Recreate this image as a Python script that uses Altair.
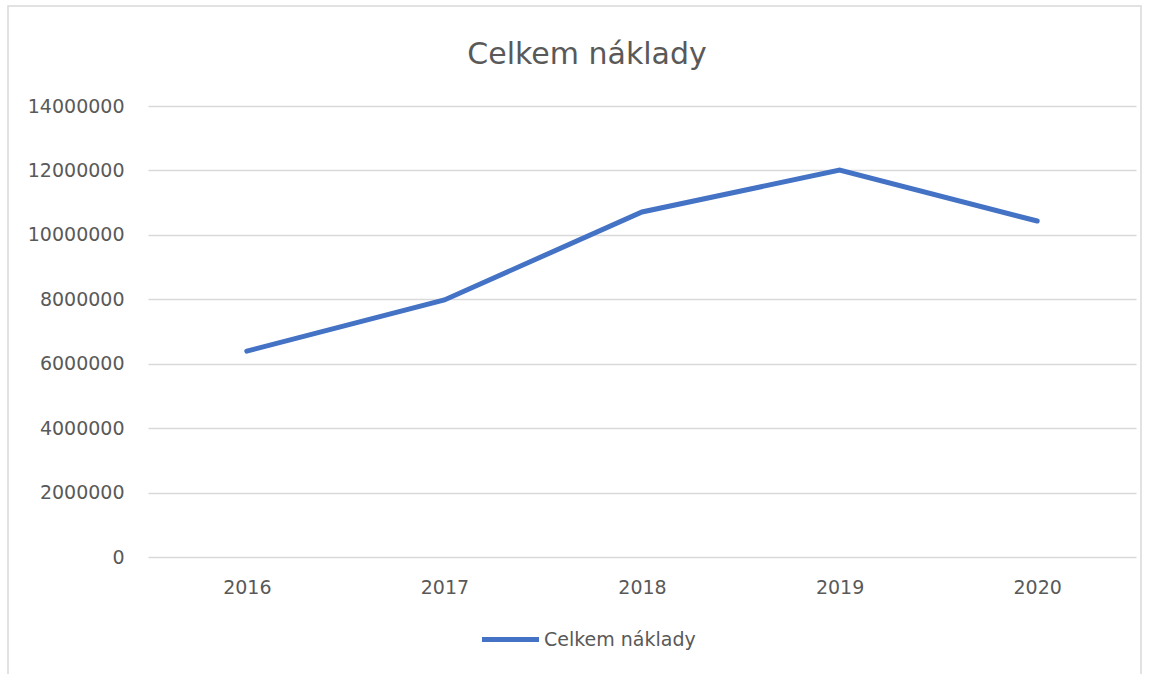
import altair as alt
import pandas as pd

years = ["2016", "2017", "2018", "2019", "2020"]
values = [6390000, 7980000, 10710000, 12010000, 10430000]
series = ["Celkem náklady"] * len(years)
title_text = ["Celkem náklady"]

df = pd.DataFrame({"rok": years, "hodnota": values, "serie": series})

FONT = "DejaVu Sans"
GREY = "#595959"

frame = alt.Chart(pd.DataFrame({"a": [0]})).mark_rect(
    fillOpacity=0, stroke="#d9d9d9", strokeWidth=1.5
).encode(
    x=alt.value(-140), x2=alt.value(993), y=alt.value(-100), y2=alt.value(600)
)

title = alt.Chart(pd.DataFrame({"t": title_text})).mark_text(
    font=FONT, fontSize=30, color=GREY, align="center", baseline="alphabetic"
).encode(x=alt.value(439), y=alt.value(-42), text="t:N")

line = alt.Chart(df).mark_line(strokeWidth=5, strokeCap="round").encode(
    x=alt.X("rok:N", title=None, sort=years,
            scale=alt.Scale(paddingOuter=0.5, paddingInner=0),
            axis=alt.Axis(labelAngle=0, labelPadding=21, ticks=False, domain=False,
                          labelFontSize=19, labelColor=GREY, labelFont=FONT, grid=False)),
    y=alt.Y("hodnota:Q", title=None, scale=alt.Scale(domain=[0, 14000000]),
            axis=alt.Axis(values=list(range(0, 14000001, 2000000)), format="d",
                          labelPadding=24, ticks=False, domain=False,
                          labelFontSize=19, labelColor=GREY, labelFont=FONT,
                          gridColor="#d9d9d9", gridWidth=1.3)),
    color=alt.Color("serie:N", scale=alt.Scale(range=["#4472C4"]),
                    legend=alt.Legend(title=None, orient="none", legendX=331, legendY=502,
                                      symbolType="stroke", symbolStrokeWidth=5,
                                      symbolSize=3250, labelFontSize=19, labelColor=GREY,
                                      labelFont=FONT, labelOffset=2)),
)

chart = alt.layer(frame, title, line).properties(
    width=988, height=451,
    background="white",
    autosize=alt.AutoSizeParams(type="none"),
    padding={"left": 148, "top": 106, "right": 15, "bottom": 117},
).configure_view(stroke=None, strokeWidth=0)

chart.save("out.html", embed_options={"renderer": "svg", "actions": False})
